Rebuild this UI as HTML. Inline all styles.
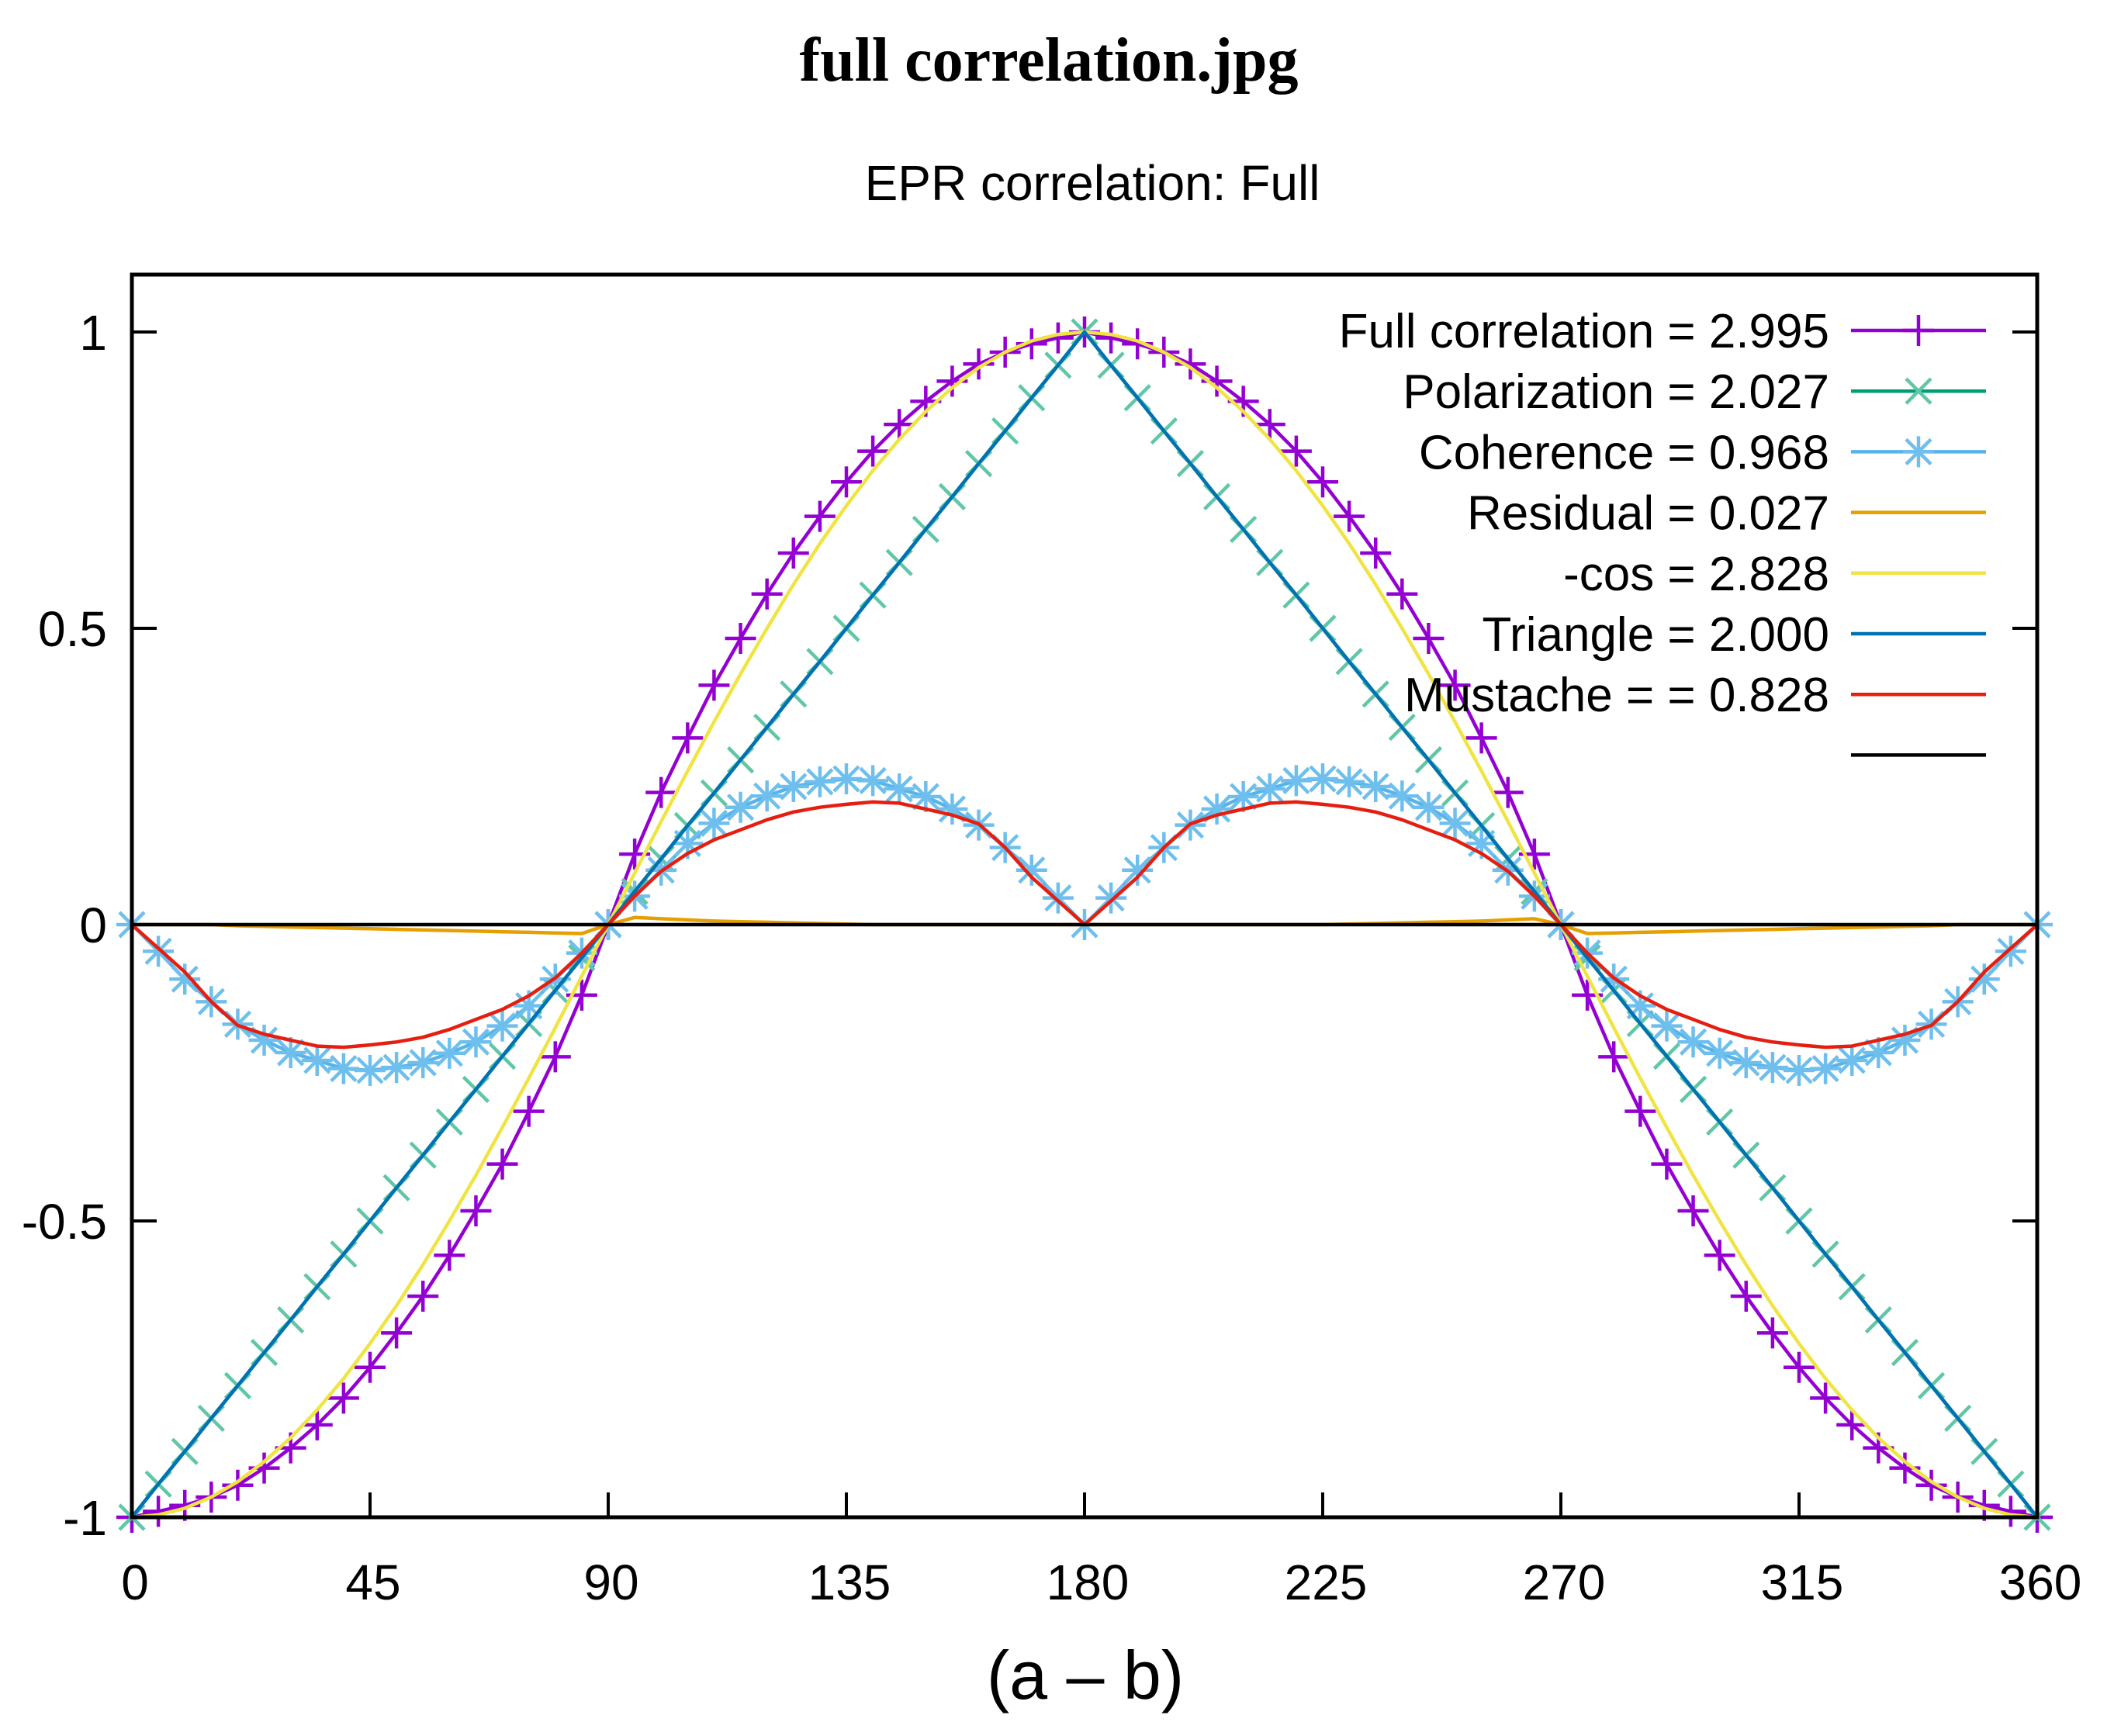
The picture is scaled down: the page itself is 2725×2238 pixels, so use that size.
<!DOCTYPE html>
<html><head><meta charset="utf-8"><style>
html,body{margin:0;padding:0;background:#fff;}
svg{display:block;}
</style></head><body>
<svg id="chart" width="2725" height="2238" xmlns="http://www.w3.org/2000/svg">
<text x="1352" y="104" text-anchor="middle" font-family="Liberation Serif, serif" font-weight="bold" font-size="80">full correlation.jpg</text>
<text x="1408" y="258" text-anchor="middle" font-family="Liberation Sans, sans-serif" font-size="64">EPR correlation: Full</text>
<text x="1399" y="2190" text-anchor="middle" font-family="Liberation Sans, sans-serif" font-size="88">(a – b)</text>
<g id="plot"></g>
</svg>
<script>
const angles = [0,5,10,15,20,25,30,35,40,45,50,55,60,65,70,75,80,85,90,95,100,105,110,115,120,125,130,135,140,145,150,155,160,165,170,175,180,185,190,195,200,205,210,215,220,225,230,235,240,245,250,255,260,265,270,275,280,285,290,295,300,305,310,315,320,325,330,335,340,345,350,355,360];
const fullCorr = [-1,-0.99,-0.98,-0.966,-0.946,-0.917,-0.883,-0.844,-0.799,-0.747,-0.689,-0.627,-0.558,-0.483,-0.404,-0.315,-0.223,-0.119,0,
0.119,0.223,0.315,0.404,0.483,0.558,0.627,0.689,0.747,0.799,0.844,0.883,0.917,0.946,0.966,0.98,0.99,1,
0.99,0.98,0.966,0.946,0.917,0.883,0.844,0.799,0.747,0.689,0.627,0.558,0.483,0.404,0.315,0.223,0.119,0,
-0.119,-0.223,-0.315,-0.404,-0.483,-0.558,-0.627,-0.689,-0.747,-0.799,-0.844,-0.883,-0.917,-0.946,-0.966,-0.98,-0.99,-1];
const triangle = [-1,-0.944,-0.889,-0.833,-0.778,-0.722,-0.667,-0.611,-0.556,-0.5,-0.444,-0.389,-0.333,-0.278,-0.222,-0.167,-0.111,-0.056,0,
0.056,0.111,0.167,0.222,0.278,0.333,0.389,0.444,0.5,0.556,0.611,0.667,0.722,0.778,0.833,0.889,0.944,1,
0.944,0.889,0.833,0.778,0.722,0.667,0.611,0.556,0.5,0.444,0.389,0.333,0.278,0.222,0.167,0.111,0.056,0,
-0.056,-0.111,-0.167,-0.222,-0.278,-0.333,-0.389,-0.444,-0.5,-0.556,-0.611,-0.667,-0.722,-0.778,-0.833,-0.889,-0.944,-1];
const polarization = [-1,-0.944,-0.889,-0.833,-0.778,-0.722,-0.667,-0.611,-0.556,-0.5,-0.444,-0.389,-0.333,-0.278,-0.222,-0.167,-0.111,-0.056,0,
0.056,0.111,0.167,0.222,0.278,0.333,0.389,0.444,0.5,0.556,0.611,0.667,0.722,0.778,0.833,0.889,0.944,1,
0.944,0.889,0.833,0.778,0.722,0.667,0.611,0.556,0.5,0.444,0.389,0.333,0.278,0.222,0.167,0.111,0.056,0,
-0.056,-0.111,-0.167,-0.222,-0.278,-0.333,-0.389,-0.444,-0.5,-0.556,-0.611,-0.667,-0.722,-0.778,-0.833,-0.889,-0.944,-1];
const coherence = [0,-0.045,-0.092,-0.13,-0.168,-0.195,-0.216,-0.229,-0.243,-0.246,-0.241,-0.233,-0.217,-0.198,-0.171,-0.137,-0.092,-0.048,0,
0.048,0.092,0.137,0.171,0.198,0.217,0.233,0.241,0.246,0.243,0.229,0.216,0.195,0.168,0.13,0.092,0.045,0,
0.045,0.092,0.13,0.168,0.195,0.216,0.229,0.243,0.246,0.241,0.233,0.217,0.198,0.171,0.137,0.092,0.048,0,
-0.048,-0.092,-0.137,-0.171,-0.198,-0.217,-0.233,-0.241,-0.246,-0.243,-0.229,-0.216,-0.195,-0.168,-0.13,-0.092,-0.045,0];
const mustache = [0,-0.04,-0.08,-0.13,-0.17,-0.185,-0.195,-0.205,-0.207,-0.203,-0.198,-0.19,-0.177,-0.16,-0.143,-0.12,-0.09,-0.048,0,
0.048,0.09,0.12,0.143,0.16,0.177,0.19,0.198,0.203,0.207,0.205,0.195,0.185,0.17,0.13,0.08,0.04,0,
0.04,0.08,0.13,0.17,0.185,0.195,0.205,0.207,0.203,0.198,0.19,0.177,0.16,0.143,0.12,0.09,0.048,0,
-0.048,-0.09,-0.12,-0.143,-0.16,-0.177,-0.19,-0.198,-0.203,-0.207,-0.205,-0.195,-0.185,-0.17,-0.13,-0.08,-0.04,0];
const negCos = [-1,-0.996,-0.985,-0.966,-0.94,-0.906,-0.866,-0.819,-0.766,-0.707,-0.643,-0.574,-0.5,-0.423,-0.342,-0.259,-0.174,-0.087,0,
0.087,0.174,0.259,0.342,0.423,0.5,0.574,0.643,0.707,0.766,0.819,0.866,0.906,0.94,0.966,0.985,0.996,1,
0.996,0.985,0.966,0.94,0.906,0.866,0.819,0.766,0.707,0.643,0.574,0.5,0.423,0.342,0.259,0.174,0.087,0,
-0.087,-0.174,-0.259,-0.342,-0.423,-0.5,-0.574,-0.643,-0.707,-0.766,-0.819,-0.866,-0.906,-0.94,-0.966,-0.985,-0.996,-1];
const residual = [0,0,0,0,-0.002,-0.003,-0.004,-0.005,-0.006,-0.007,-0.008,-0.009,-0.01,-0.011,-0.012,-0.013,-0.014,-0.015,0,
0.012,0.01,0.008,0.006,0.005,0.004,0.003,0.002,0.001,0,0,0,0,0,0,0,0,0,
0,0,0,0,0,0,0,0,0,0.001,0.002,0.003,0.004,0.005,0.006,0.008,0.01,0,
-0.015,-0.014,-0.013,-0.012,-0.011,-0.01,-0.009,-0.008,-0.007,-0.006,-0.005,-0.004,-0.003,-0.002,0,0,0,0];
const zeroLine = [0,0];
const zeroAngles = [0,360];
const xTicks = [0,45,90,135,180,225,270,315,360];
const yTicks = [-1,-0.5,0,0.5,1];
const yTickLabels = ["-1","-0.5","0","0.5","1"];
const legendLabels = ["Full correlation = 2.995","Polarization = 2.027","Coherence = 0.968","Residual = 0.027","-cos = 2.828","Triangle = 2.000","Mustache = = 0.828",""];

const NS="http://www.w3.org/2000/svg";
const X0=170,X1=2626,Y0=1956,Y1=428,FT=354;
const xs=v=>X0+(v/360)*(X1-X0);
const ys=v=>Y0-(v+1)/2*(Y0-Y1);
const plot=document.getElementById('plot');
function mk(tag,attrs,parent){const e=document.createElementNS(NS,tag);for(const k in attrs)e.setAttribute(k,attrs[k]);(parent||plot).appendChild(e);return e;}

xTicks.forEach(t=>{
  const g=mk('g',{});
  
  
  mk('line',{x1:xs(t),x2:xs(t),y1:Y0,y2:Y0-32,stroke:'#000','stroke-width':4},g);
  const tx=mk('text',{x:xs(t)+4,y:2062,'text-anchor':'middle','font-family':'Liberation Sans, sans-serif','font-size':64},g);
  tx.textContent=t;
});
yTicks.forEach((t,i)=>{
  const g=mk('g',{});
  
  
  mk('line',{x1:X0,x2:X0+32,y1:ys(t),y2:ys(t),stroke:'#000','stroke-width':4},g);
  mk('line',{x1:X1,x2:X1-32,y1:ys(t),y2:ys(t),stroke:'#000','stroke-width':4},g);
  const tx=mk('text',{x:138,y:ys(t)+23,'text-anchor':'end','font-family':'Liberation Sans, sans-serif','font-size':64},g);
  tx.textContent=yTickLabels[i];
});

function marker(type,x,y,color,g){
  const s=20,w=4.5;
  if(type==='+'||type==='*'){mk('line',{x1:x-s,x2:x+s,y1:y,y2:y,stroke:color,'stroke-width':w},g);mk('line',{x1:x,x2:x,y1:y-s,y2:y+s,stroke:color,'stroke-width':w},g);}
  if(type==='x'||type==='*'){const d=s*0.8;mk('line',{x1:x-d,x2:x+d,y1:y-d,y2:y+d,stroke:color,'stroke-width':w},g);mk('line',{x1:x-d,x2:x+d,y1:y+d,y2:y-d,stroke:color,'stroke-width':w},g);}
}
const series=[
 {name:'series-full-correlation',xv:angles,yv:fullCorr,color:'#9400d3',m:'+'},
 {name:'series-polarization',xv:angles,yv:polarization,color:'#009e73',m:'x',markColor:'#5fc7a6'},
 {name:'series-coherence',xv:angles,yv:coherence,color:'#56b4e9',m:'*',markColor:'#6ebfee'},
 {name:'series-residual',xv:angles,yv:residual,color:'#e69f00',m:null},
 {name:'series-neg-cos',xv:angles,yv:negCos,color:'#f0e442',m:null},
 {name:'series-triangle',xv:angles,yv:triangle,color:'#0072b2',m:null},
 {name:'series-mustache',xv:angles,yv:mustache,color:'#e51e10',m:null},
 {name:'series-zero-line',xv:zeroAngles,yv:zeroLine,color:'#000000',m:null}
];
series.forEach((s,i)=>{
  const g=mk('g',{});
  
  
  const pts=s.xv.map((a,j)=>xs(a).toFixed(1)+','+ys(s.yv[j]).toFixed(1)).join(' ');
  mk('polyline',{points:pts,fill:'none',stroke:s.color,'stroke-width':4.5,'stroke-linejoin':'round'},g);
  if(s.m){s.xv.forEach((a,j)=>marker(s.m,xs(a),ys(s.yv[j]),s.markColor||s.color,g));}
  const lg=mk('g',{});
  
  
  const ly=426+i*78.2;
  if(legendLabels[i]){const t=mk('text',{x:2358,y:ly+22,'text-anchor':'end','font-family':'Liberation Sans, sans-serif','font-size':62},lg);t.textContent=legendLabels[i];}
  mk('line',{x1:2386,x2:2560,y1:ly,y2:ly,stroke:s.color,'stroke-width':4.5},lg);
  if(s.m)marker(s.m,2473,ly,s.markColor||s.color,lg);
});
const fr=mk('rect',{x:X0,y:FT,width:X1-X0,height:Y0-FT,fill:'none',stroke:'#000','stroke-width':5});


</script>
</body></html>
